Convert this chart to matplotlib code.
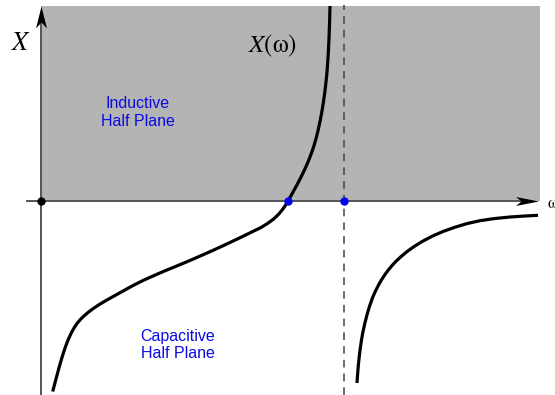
import numpy as np
import matplotlib
matplotlib.use("Agg")
import matplotlib.pyplot as plt
from matplotlib.path import Path

plt.rcParams['mathtext.fontset'] = 'stix'

# reactance X(w) of the network, sampled along both branches
w_low = [11.7, 15, 18, 21, 24, 27, 30, 33, 36, 39, 43, 47, 52, 58, 65, 74, 83, 92, 102, 112,
         123, 135, 147, 159, 171, 183, 193, 203, 212, 220, 226, 232, 235, 238, 241, 244, 247,
         250, 253, 256, 259, 262, 265, 268, 271, 273, 275, 277, 279, 281, 282.5, 284, 285.3,
         286.3, 287.2, 288, 288.6, 289]
x_low = [-190.5, -177.9, -166.8, -156.4, -147.1, -139.1, -132.5, -127, -122.5, -118.9, -114.9,
         -111.5, -107.7, -103.7, -99.5, -94.5, -89.5, -84.5, -79.5, -75, -70.2, -65.3, -60.3,
         -55.1, -49.8, -44.3, -39.6, -34.8, -30.4, -26.5, -22.8, -18.5, -15.8, -12.8, -9.2,
         -5, 0, 5.3, 10.7, 16.2, 21.9, 27.9, 34.4, 41.4, 49.4, 55.4, 62.3, 70.3, 79.5, 90.1,
         99.4, 110.3, 121.7, 132.7, 146.2, 162.2, 179, 195]
w_high = [316, 316.5, 317.2, 318, 319, 320.3, 321.8, 324, 326, 328.5, 332, 335, 338, 341,
          344, 347, 351, 355, 360, 366, 373, 381, 391, 402, 414, 426, 439, 453, 469, 484, 497]
x_high = [-182, -174.5, -165.8, -157.8, -149.3, -140.2, -131.5, -121.6, -113.8, -105.3,
          -95.5, -89, -83.1, -78, -73.5, -69.4, -64.6, -60.3, -55.6, -50.6, -45.6, -40.6,
          -35.3, -30.5, -26.2, -22.6, -19.7, -17.6, -16, -15, -14.3]
w_zero = 247      # series resonance
w_pole = 303      # parallel resonance

# stealth style arrow heads
head_up = Path([(0, 11), (-5.5, -11), (0, -5), (5.5, -11), (0, 11)],
               [Path.MOVETO, Path.LINETO, Path.LINETO, Path.LINETO, Path.CLOSEPOLY])
head_right = Path([(11.5, 0), (-11.5, 4.5), (-6, 0), (-11.5, -4.5), (11.5, 0)],
                  [Path.MOVETO, Path.LINETO, Path.LINETO, Path.LINETO, Path.CLOSEPOLY])

fig = plt.figure(figsize=(5.55, 3.95), dpi=100)
ax = fig.add_axes([0, 0, 1, 1])
ax.set_xlim(-41, 514)
ax.set_ylim(-194, 201)
ax.axis('off')

# inductive half plane
ax.fill_between([0, 499], 0, 195, color='#b4b4b4', lw=0, zorder=0)

# axes
ax.plot([0, 0], [-195, 180], color='#555555', lw=1.4, zorder=2)
ax.plot([-14, 480], [0, 0], color='#555555', lw=1.4, zorder=2)
ax.plot([0], [184], marker=head_up, ms=15.8, color='black', mew=0, zorder=4)
ax.plot([485.5], [0], marker=head_right, ms=16.5, color='black', mew=0, zorder=4)
ax.plot([0], [0], 'o', color='black', ms=5, zorder=5)

# asymptote at the pole
ax.plot([w_pole, w_pole], [-194, 196], color='#444444', lw=1.1, ls=(0, (5, 4)), zorder=1)

ax.plot(w_low, x_low, color='black', lw=2.3, solid_capstyle='butt', zorder=3)
ax.plot(w_high, x_high, color='black', lw=2.3, solid_capstyle='butt', zorder=3)
ax.plot([w_zero, w_pole], [0, 0], 'o', color='#0000ee', ms=5, zorder=6)

ax.text(-20, 158, r'$X$', fontsize=19, ha='center', va='center')
ax.text(232, 155, r'$X$(ω)', family='STIXGeneral', fontsize=18, ha='center', va='center')
ax.text(506, -3, 'ω', family='STIXGeneral', fontsize=12, ha='left', va='center')

ax.text(97, 89, 'Inductive\nHalf Plane', color='#0a0ae6', family='Liberation Sans',
        fontsize=11.5, ha='center', va='center', linespacing=1.25)
ax.text(137, -144, 'Capacitive\nHalf Plane', color='#0a0ae6', family='Liberation Sans',
        fontsize=11.5, ha='center', va='center', linespacing=1.25)

fig.savefig('out.png', dpi=100)
